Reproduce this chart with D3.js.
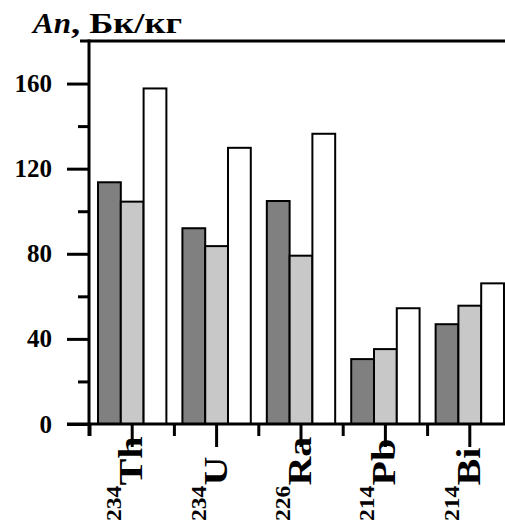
<!DOCTYPE html>
<html>
<head>
<meta charset="utf-8">
<script src="https://cdn.jsdelivr.net/npm/d3@7"></script>
<style>
  html, body { margin: 0; padding: 0; background: #fff; }
  svg { display: block; }
</style>
</head>
<body>
<svg id="chart" width="505" height="523" font-family="Liberation Serif" font-weight="bold"></svg>
<script>
// isotopes on the x axis
var elements = ["Th", "U", "Ra", "Pb", "Bi"];
var massNumbers = ["234", "234", "226", "214", "214"];

// three series (dark gray, light gray, white)
var seriesDark = [113.6, 92, 104.8, 30.5, 46.9];
var seriesLight = [104.5, 83.6, 79.1, 35.2, 55.6];
var seriesWhite = [157.7, 129.8, 136.4, 54.4, 66.1];

var majorTicks = [0, 40, 80, 120, 160];
var minorTicks = [20, 60, 100, 140];

var seriesNames = ["dark", "light", "white"];
var seriesColors = ["#808080", "#c8c8c8", "#ffffff"];

var FONT = "Liberation Serif";

var tableData = elements.map(function(el, i) {
    return {
        el: el,
        mass: massNumbers[i],
        values: [seriesDark[i], seriesLight[i], seriesWhite[i]]
    };
});

var svg = d3.select("#chart");

var plot = {left: 90, right: 512, top: 41, bottom: 424};

var yScale = d3.scaleLinear()
    .domain([0, 180])
    .range([plot.bottom, plot.top]);

var xScale = d3.scaleBand()
    .domain(elements)
    .range([plot.left, plot.right])
    .paddingInner(0.19)
    .paddingOuter(0.095);

var xSub = d3.scaleBand()
    .domain(seriesNames)
    .range([0, xScale.bandwidth()]);

var step = xScale.step();

// bars
var groups = svg.append("g").selectAll("g")
    .data(tableData).enter()
    .append("g")
    .attr("transform", function(d) { return "translate(" + xScale(d.el) + ",0)"; });

groups.selectAll("rect")
    .data(function(d) { return d.values.map(function(v, j) { return {s: seriesNames[j], v: v, c: seriesColors[j]}; }); })
    .enter()
    .append("rect")
    .attr("x", function(d) { return xSub(d.s); })
    .attr("y", function(d) { return yScale(d.v); })
    .attr("width", xSub.bandwidth())
    .attr("height", function(d) { return yScale(0) - yScale(d.v); })
    .attr("fill", function(d) { return d.c; })
    .attr("stroke", "#000")
    .attr("stroke-width", 2);

// y axis (major and minor ticks)
var yAxisG = svg.append("g")
    .attr("transform", "translate(89,0)")
    .call(d3.axisLeft(yScale).tickValues(majorTicks).tickSize(22).tickPadding(15).tickFormat(d3.format("d")));
yAxisG.attr("font-family", FONT).attr("font-size", 25);
yAxisG.select(".domain").remove();
yAxisG.selectAll("line").attr("stroke", "#000").attr("stroke-width", 3);
yAxisG.selectAll("text")
    .attr("font-family", FONT)
    .attr("font-weight", "bold")
    .attr("fill", "#000");

var yMinorG = svg.append("g")
    .attr("transform", "translate(89,0)")
    .call(d3.axisLeft(yScale).tickValues(minorTicks).tickSize(11).tickFormat(""));
yMinorG.select(".domain").remove();
yMinorG.selectAll("line").attr("stroke", "#000").attr("stroke-width", 3);

// x axis: major ticks at categories, minor ticks between
var xAxisG = svg.append("g")
    .attr("transform", "translate(0," + plot.bottom + ")")
    .call(d3.axisBottom(xScale).tickSize(23).tickFormat(""));
xAxisG.select(".domain").remove();
xAxisG.selectAll("line").attr("stroke", "#000").attr("stroke-width", 3);

var minorX = elements.map(function(el) { return xScale(el) - (step - xScale.bandwidth()) / 2; });
svg.append("g").selectAll("line")
    .data(minorX).enter()
    .append("line")
    .attr("x1", function(d) { return d; })
    .attr("x2", function(d) { return d; })
    .attr("y1", plot.bottom)
    .attr("y2", plot.bottom + 12)
    .attr("stroke", "#000")
    .attr("stroke-width", 3);

// frame lines
svg.append("line")
    .attr("x1", 89).attr("x2", 89)
    .attr("y1", plot.top - 1.5).attr("y2", plot.bottom + 12)
    .attr("stroke", "#000").attr("stroke-width", 3);
svg.append("line")
    .attr("x1", 67).attr("x2", 505)
    .attr("y1", plot.bottom).attr("y2", plot.bottom)
    .attr("stroke", "#000").attr("stroke-width", 3);
svg.append("line")
    .attr("x1", 80).attr("x2", 505)
    .attr("y1", plot.top).attr("y2", plot.top)
    .attr("stroke", "#000").attr("stroke-width", 3);

// category labels, rotated, starting near the bottom edge (slightly stretched along the text)
var labels = svg.append("g").selectAll("text")
    .data(tableData).enter()
    .append("text")
    .attr("font-family", FONT)
    .attr("font-weight", "bold")
    .attr("transform", function(d) {
        return "translate(" + (xScale(d.el) + xScale.bandwidth() / 2 + 10) + ",521) rotate(-90) scale(1.18,1)";
    })
    .attr("text-anchor", "start");
labels.append("tspan")
    .attr("font-size", 20)
    .attr("dy", -21)
    .text(function(d) { return d.mass; });
labels.append("tspan")
    .attr("font-size", 34)
    .attr("dy", 21)
    .text(function(d) { return d.el; });

// unit title
var title = svg.append("text")
    .attr("y", 33)
    .attr("font-family", FONT)
    .attr("font-weight", "bold")
    .attr("font-size", 30);
title.append("tspan")
    .attr("x", 33)
    .attr("font-style", "italic")
    .attr("textLength", 38)
    .attr("lengthAdjust", "spacingAndGlyphs")
    .text("An");
title.append("tspan")
    .attr("x", 71)
    .attr("textLength", 111)
    .attr("lengthAdjust", "spacingAndGlyphs")
    .text(", Бк/кг");
</script>
</body>
</html>
